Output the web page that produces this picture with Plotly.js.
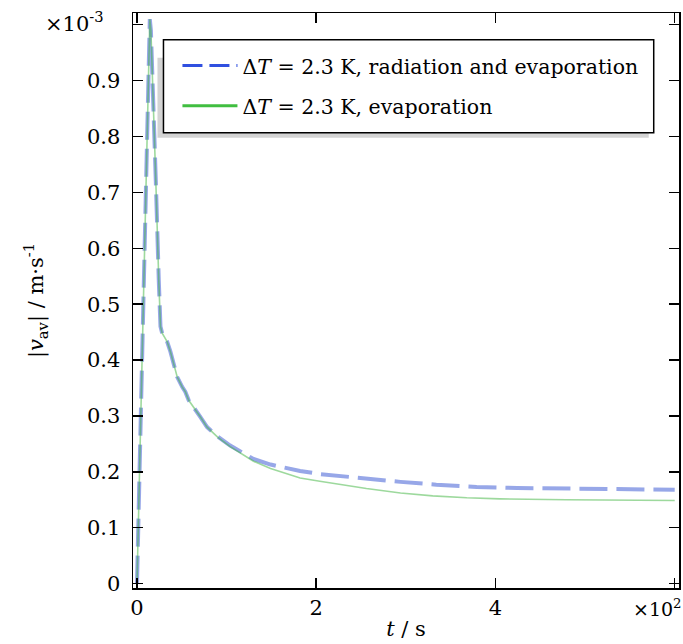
<!DOCTYPE html>
<html><head><meta charset="utf-8">
<script src="https://cdn.plot.ly/plotly-3.0.1.min.js"></script>
<style>html,body{margin:0;padding:0;background:#fff}</style>
</head><body>
<div id="chart" style="width:683px;height:644px"></div>
<script>
// time in s; speed |v_av| in units of 1e-3 m/s
const tRadiation = [0, 5, 10, 13, 14.3, 15.5, 18, 21, 24.3, 26.2, 28.1, 33.6, 37.3, 41, 44.8, 50.4, 54, 57.7, 63.3, 70.8, 78.2, 90,
  104, 130, 149, 167, 182, 204, 252, 294, 334, 379, 424, 464, 505, 550, 600];
const vRadiation = [0, 0.36, 0.72, 0.93, 1.01, 0.99, 0.88, 0.72, 0.543, 0.46, 0.448, 0.433, 0.415, 0.394, 0.37, 0.352, 0.343, 0.328, 0.316, 0.298, 0.28, 0.263,
  0.247, 0.223, 0.213, 0.206, 0.2015, 0.196, 0.188, 0.182, 0.177, 0.173, 0.171, 0.170, 0.169, 0.169, 0.168];
const tEvaporation = [0, 5, 10, 13, 14.3, 15.5, 18, 21, 24.3, 26.2, 28.1, 33.6, 37.3, 41, 44.8, 50.4, 54, 57.7, 63.3, 70.8, 78.2, 90,
  104, 130, 149, 167, 182, 204, 219, 256, 294, 330, 368, 405, 479, 553, 600];
const vEvaporation = [0, 0.36, 0.72, 0.93, 1.01, 0.99, 0.88, 0.72, 0.543, 0.46, 0.448, 0.433, 0.415, 0.394, 0.37, 0.352, 0.343, 0.328, 0.316, 0.298, 0.28, 0.262,
  0.245, 0.219, 0.206, 0.196, 0.189, 0.183, 0.179, 0.170, 0.162, 0.157, 0.1535, 0.1515, 0.150, 0.1497, 0.1487];
const xTickVals = [0, 200, 400, 600];
const xTickText = ['0', '2', '4', ''];
const yTickVals = [0, 0.1, 0.2, 0.3, 0.4, 0.5, 0.6, 0.7, 0.8, 0.9, 1.0];
const yTickText = ['0', '0.1', '0.2', '0.3', '0.4', '0.5', '0.6', '0.7', '0.8', '0.9', ''];
const nameRadiation = 'Δ<i>T</i> = 2.3 K, radiation and evaporation';
const nameEvaporation = 'Δ<i>T</i> = 2.3 K, evaporation';

const FONT = 'DejaVu Serif, serif';
const blue = 'rgb(48,80,224)';
const green = 'rgb(64,190,64)';

const traces = [
  {x: tRadiation, y: vRadiation, mode: 'lines', showlegend: false,
   line: {color: 'rgba(48,80,210,0.5)', width: 4, dash: '28px,9px'}},
  {x: tEvaporation, y: vEvaporation, mode: 'lines', showlegend: false,
   line: {color: 'rgba(60,180,60,0.5)', width: 1.6}},
  {x: [null], y: [null], mode: 'lines', name: nameRadiation, legendgroup: 'a',
   line: {color: blue, width: 3, dash: '20px,7px'}},
  {x: [null], y: [null], mode: 'lines', name: nameEvaporation, legendgroup: 'b',
   line: {color: green, width: 3}}
];

const axisCommon = {
  showline: true, linecolor: '#000', linewidth: 1.5, mirror: 'ticks',
  ticks: 'inside', ticklen: 10, tickwidth: 1.5, tickcolor: '#000',
  showgrid: false, zeroline: false,
  tickfont: {family: FONT, size: 21, color: '#000'}
};

const layout = {
  width: 683, height: 644,
  margin: {l: 132.5, r: 3.7, t: 13.3, b: 56.3},
  paper_bgcolor: '#fff', plot_bgcolor: '#fff',
  font: {family: FONT, color: '#000', size: 20},
  xaxis: Object.assign({}, axisCommon, {
    range: [-4.46, 604.8], tickmode: 'array', tickvals: xTickVals, ticktext: xTickText,
    title: {text: '<i>t</i> / s', font: {family: FONT, size: 21}, standoff: 2}
  }),
  yaxis: Object.assign({}, axisCommon, {
    range: [-0.0079, 1.021], tickmode: 'array', tickvals: yTickVals, ticktext: yTickText,
    ticklabelstandoff: 7,
    title: {text: '|<i>v</i><sub>av</sub>| / m·s<sup>-1</sup>', font: {family: FONT, size: 21}, standoff: 37}
  }),
  legend: {
    x: 0.0814, y: 0.9431, xanchor: 'left', yanchor: 'top',
    bgcolor: 'rgba(0,0,0,0)', borderwidth: 0,
    font: {family: FONT, size: 20.5, color: '#000'},
    itemwidth: 55, tracegroupgap: 10.5, traceorder: 'grouped'
  },
  shapes: [
    {type: 'rect', xref: 'paper', yref: 'paper', x0: 0.0448, x1: 0.9446, y0: 0.7829, y1: 0.9222,
     fillcolor: '#d4d4d4', line: {width: 0}, layer: 'above'},
    {type: 'rect', xref: 'paper', yref: 'paper', x0: 0.0558, x1: 0.9537, y0: 0.7916, y1: 0.9535,
     fillcolor: '#ffffff', line: {color: '#000', width: 1.5}, layer: 'above'}
  ],
  annotations: [
    {xref: 'paper', yref: 'paper', x: -0.05, y: 0.985, xanchor: 'right', yanchor: 'middle',
     text: '×10<sup>-3</sup>', showarrow: false, font: {family: FONT, size: 21}},
    {xref: 'paper', yref: 'paper', x: 0.913, y: -0.034, xanchor: 'left', yanchor: 'middle',
     text: '×10<sup>2</sup>', showarrow: false, font: {family: FONT, size: 19}}
  ]
};

Plotly.newPlot('chart', traces, layout, {displayModeBar: false, staticPlot: true});
</script>
</body></html>
